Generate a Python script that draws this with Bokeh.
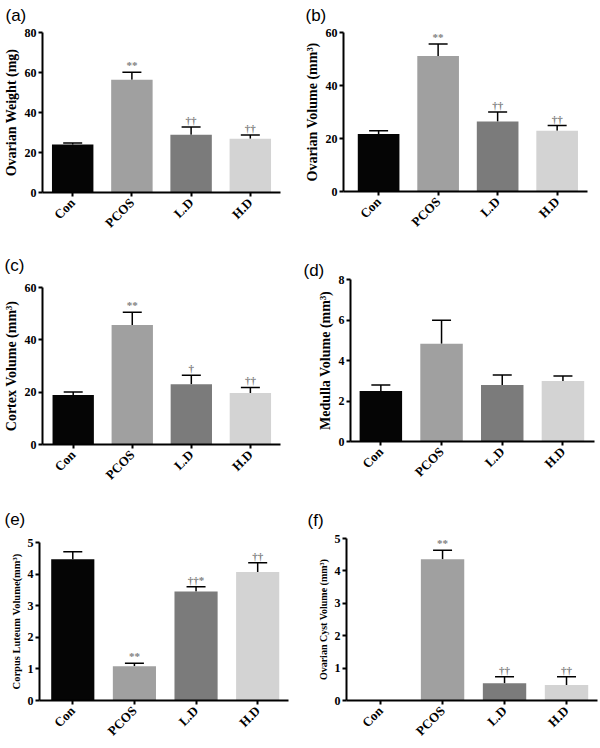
import numpy as np
from bokeh.plotting import figure
from bokeh.layouts import column, row
from bokeh.models import Range1d, FixedTicker, Whisker, TeeHead, ColumnDataSource
from bokeh.embed import file_html
from bokeh.resources import INLINE
from bokeh.core.properties import value

# ---------------- data ----------------
groups = ["Con", "PCOS", "L.D", "H.D"]
bar_colors = ["#050505", "#a0a0a0", "#7b7b7b", "#d3d3d3"]

weight_mean = [24.0, 56.4, 28.9, 26.9]
weight_err = [0.7, 3.7, 3.8, 1.8]
weight_sig = ["", "**", "\u2020\u2020", "\u2020\u2020"]

ovvol_mean = [21.7, 51.1, 26.4, 22.9]
ovvol_err = [1.2, 4.6, 3.6, 2.0]
ovvol_sig = ["", "**", "\u2020\u2020", "\u2020\u2020"]

cortex_mean = [18.9, 45.7, 23.0, 19.7]
cortex_err = [1.2, 4.8, 3.5, 2.1]
cortex_sig = ["", "**", "\u2020", "\u2020\u2020"]

medulla_mean = [2.49, 4.83, 2.79, 2.99]
medulla_err = [0.30, 1.16, 0.49, 0.24]
medulla_sig = ["", "", "", ""]

cl_mean = [4.47, 1.08, 3.45, 4.07]
cl_err = [0.24, 0.10, 0.15, 0.29]
cl_sig = ["", "**", "\u2020\u2020*", "\u2020\u2020"]

cyst_mean = [0.0, 4.36, 0.53, 0.48]
cyst_err = [0.0, 0.28, 0.20, 0.25]
cyst_sig = ["", "**", "\u2020\u2020", "\u2020\u2020"]

# ---------------- panel specs (layout / style) ----------------
panels = [
    dict(tag="(a)", ylabel="Ovarian Weight (mg)", ymax=80, step=20,
         mean=weight_mean, err=weight_err, sig=weight_sig,
         w=300, h=245, bl=40, br=20, bt=32, bb=53, xr=(-0.51, 3.51),
         lsize="14px", tagoff=-37, tagstand=11, tagva="top"),
    dict(tag="(b)", ylabel="Ovarian Volume (mm\u00b3)", ymax=60, step=20,
         mean=ovvol_mean, err=ovvol_err, sig=ovvol_sig,
         w=300, h=245, bl=43, br=13, bt=32, bb=54, xr=(-0.59, 3.51),
         lsize="14px", tagoff=-38, tagstand=11, tagva="top"),
    dict(tag="(c)", ylabel="Cortex Volume (mm\u00b3)", ymax=60, step=20,
         mean=cortex_mean, err=cortex_err, sig=cortex_sig,
         w=300, h=245, bl=41, br=20, bt=42, bb=44, xr=(-0.52, 3.51),
         lsize="14px", tagoff=-38, tagstand=21, tagva="top"),
    dict(tag="(d)", ylabel="Medulla Volume (mm\u00b3)", ymax=8, step=2,
         mean=medulla_mean, err=medulla_err, sig=medulla_sig,
         w=300, h=245, bl=50, br=6, bt=34, bb=49, xr=(-0.5, 3.52),
         lsize="14px", tagoff=-47, tagstand=0, tagva="bottom"),
    dict(tag="(e)", ylabel="Corpus Luteum Volume(mm\u00b3)", ymax=5, step=1,
         mean=cl_mean, err=cl_err, sig=cl_sig,
         w=300, h=256, bl=39, br=12, bt=52, bb=42, xr=(-0.54, 3.5),
         lsize="10.5px", tagoff=-35, tagstand=24, tagva="top"),
    dict(tag="(f)", ylabel="Ovarian Cyst Volume (mm\u00b3)", ymax=5, step=1,
         mean=cyst_mean, err=cyst_err, sig=cyst_sig,
         w=300, h=256, bl=46, br=3, bt=48, bb=43, xr=(-0.55, 3.5),
         lsize="10px", tagoff=-39, tagstand=14, tagva="top"),
]

SERIF = "Liberation Serif"


def make_panel(spec):
    p = figure(width=spec["w"], height=spec["h"], output_backend="svg",
               toolbar_location=None,
               x_range=Range1d(*spec["xr"]), y_range=Range1d(0, spec["ymax"]),
               min_border_left=spec["bl"], min_border_right=spec["br"],
               min_border_top=spec["bt"], min_border_bottom=spec["bb"])
    p.grid.visible = False
    p.outline_line_color = None
    p.background_fill_color = "white"
    p.border_fill_color = "white"

    # panel tag as the figure title
    p.title.text = spec["tag"]
    p.title.align = "left"
    p.title.offset = spec["tagoff"]
    p.title.standoff = spec["tagstand"]
    p.title.vertical_align = spec["tagva"]
    p.title.text_font = "Liberation Sans"
    p.title.text_font_style = "normal"
    p.title.text_font_size = "17px"
    p.title.text_color = "black"

    xs = list(range(len(groups)))
    upper = [m + e for m, e in zip(spec["mean"], spec["err"])]
    src = ColumnDataSource(dict(x=xs, top=spec["mean"], upper=upper,
                                color=bar_colors, sig=spec["sig"]))
    p.vbar(x="x", top="top", width=0.7, fill_color="color", line_color=None,
           source=src)

    keep = [i for i, e in enumerate(spec["err"]) if e > 0]
    wsrc = ColumnDataSource(dict(x=[xs[i] for i in keep],
                                 lower=[spec["mean"][i] for i in keep],
                                 upper=[upper[i] for i in keep]))
    wh = Whisker(source=wsrc, base="x", lower="lower", upper="upper",
                 line_width=1.5, line_color="black", lower_head=None,
                 upper_head=TeeHead(size=19, line_width=1.5, line_color="black"))
    p.add_layout(wh)

    p.text(x="x", y="upper", text="sig", source=src, text_align="center",
           text_baseline="bottom", y_offset=-1,
           text_font=value(SERIF), text_font_size="11px",
           text_font_style="bold", text_color="#808080")

    # axes
    p.xaxis.ticker = FixedTicker(ticks=xs)
    p.xaxis.major_label_overrides = {i: g for i, g in enumerate(groups)}
    p.xaxis.major_label_orientation = np.pi / 4
    p.yaxis.ticker = FixedTicker(ticks=list(range(0, spec["ymax"] + 1, spec["step"])))
    for ax in (p.xaxis[0], p.yaxis[0]):
        ax.axis_line_width = 2
        ax.axis_line_color = "black"
        ax.major_tick_line_width = 2
        ax.major_tick_line_color = "black"
        ax.major_tick_in = 0
        ax.major_tick_out = 4
        ax.minor_tick_line_color = None
        ax.major_label_text_font = SERIF
        ax.major_label_text_font_style = "bold"
        ax.major_label_text_color = "black"
        ax.major_label_text_font_size = "12px"
        ax.major_label_standoff = 2
    p.xaxis.major_label_standoff = 4
    p.xaxis.major_label_text_font_size = "13px"
    p.yaxis.axis_label = spec["ylabel"]
    p.yaxis.axis_label_text_font = SERIF
    p.yaxis.axis_label_text_font_style = "bold"
    p.yaxis.axis_label_text_font_size = spec["lsize"]
    p.yaxis.axis_label_text_color = "black"
    p.yaxis.axis_label_standoff = 3
    return p


figs = [make_panel(s) for s in panels]
# each figure wrapped in its own column so frames are not aligned across a row
layout = column(
    row(column(figs[0]), column(figs[1])),
    row(column(figs[2]), column(figs[3])),
    row(column(figs[4]), column(figs[5])),
)

open("out.html", "w").write(file_html(layout, INLINE))
